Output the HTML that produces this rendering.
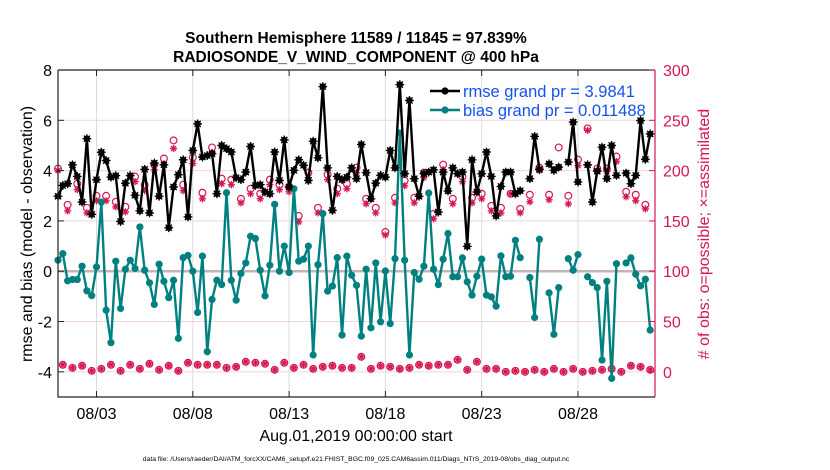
<!DOCTYPE html>
<html><head><meta charset="utf-8">
<style>
html,body{margin:0;padding:0;background:#fff;}
svg{display:block;font-family:"Liberation Sans",Arial,sans-serif;}
</style></head>
<body>
<svg id="chart" width="830" height="470" viewBox="0 0 830 470" xmlns="http://www.w3.org/2000/svg">
<rect width="830" height="470" fill="#fff"/>
<text x="356" y="43" text-anchor="middle" font-size="15.5" font-weight="bold">Southern Hemisphere 11589 / 11845 = 97.839%</text>
<text x="356" y="62" text-anchor="middle" font-size="15.5" font-weight="bold">RADIOSONDE_V_WIND_COMPONENT @ 400 hPa</text>
<g id="grid"></g>
<g id="marks"></g>
<g id="axes"></g>
<text transform="translate(32,234) rotate(-90)" text-anchor="middle" font-size="16">rmse and bias (model - observation)</text>
<text transform="translate(709,234) rotate(-90)" text-anchor="middle" font-size="16" fill="#d6174f"># of obs: o=possible; ×=assimilated</text>
<text x="356" y="441" text-anchor="middle" font-size="16">Aug.01,2019 00:00:00 start</text>
<text x="356" y="461" text-anchor="middle" font-size="6.8">data file: /Users/raeder/DAI/ATM_forcXX/CAM6_setup/f.e21.FHIST_BGC.f09_025.CAM6assim.011/Diags_NTrS_2019-08/obs_diag_output.nc</text>
<g>
<line x1="430" y1="91" x2="460" y2="91" stroke="#000" stroke-width="2.5"/>
<circle cx="445" cy="91" r="3.6" fill="#000"/>
<text x="463" y="97" font-size="16.5" fill="#1452f0">rmse grand pr = 3.9841</text>
<line x1="430" y1="110" x2="460" y2="110" stroke="#008080" stroke-width="2.5"/>
<circle cx="445" cy="110" r="3.6" fill="#008080"/>
<text x="463" y="116" font-size="16.5" fill="#1452f0">bias grand pr = 0.011488</text>
</g>
</svg>
<script>
// ---- data (6-hourly from Aug 01 00Z) ----
const rmse = [2.98,3.41,3.48,4.23,3.77,2.75,5.27,2.26,3.64,4.73,4.40,3.74,3.80,1.98,3.50,3.80,3.02,2.40,4.05,2.32,4.30,2.98,4.23,1.73,3.35,3.84,4.43,2.16,4.80,5.86,4.54,4.60,
4.67,3.08,5.00,4.87,4.74,3.72,3.64,3.94,4.96,3.41,3.44,3.15,3.08,4.74,3.61,5.22,3.35,4.01,4.43,4.21,3.61,5.17,4.51,7.34,4.11,2.42,3.77,3.64,3.74,4.11,3.68,
5.04,3.92,2.88,3.50,3.81,3.74,4.80,4.11,7.42,3.88,6.79,3.68,2.98,3.88,3.94,4.03,2.35,3.94,3.19,4.11,3.88,3.94,0.99,4.43,3.15,3.88,4.74,3.77,2.20,3.37,3.94,
3.94,3.08,3.20,null,3.68,5.36,4.05,null,4.27,4.01,4.14,null,4.34,5.93,3.55,null,4.23,2.75,3.98,4.93,3.68,5.00,3.81,null,3.90,3.48,3.81,5.99,4.45,5.46];
const bias = [0.44,0.70,-0.38,-0.33,-0.33,0.20,-0.78,-0.97,0.17,2.75,-1.55,-2.84,0.40,-1.48,0.08,0.44,0.11,1.76,0.04,-0.46,-1.32,0.28,-0.40,-1.05,-0.36,-2.67,0.54,0.63,0.0,-1.64,0.60,-3.20,
-1.12,-0.36,-0.53,3.12,-0.36,-1.15,-0.09,0.33,1.39,1.30,0.04,-0.98,0.24,2.66,0.0,1.0,-0.05,3.28,0.40,0.48,1.0,-3.33,0.26,2.29,-0.79,-0.59,0.54,-2.54,0.60,-0.16,-0.56,
-2.58,0.08,-2.25,0.33,-2.01,0.01,-2.08,0.50,5.49,0.44,-3.33,-0.05,-0.32,0.20,3.11,0.08,-0.53,0.48,1.50,-0.22,-0.22,0.53,-0.42,-0.95,-0.20,0.48,-0.95,-1.02,-1.39,0.61,-0.22,
-0.20,1.23,0.54,null,-0.25,-1.84,1.27,null,-0.86,-2.51,-0.65,null,0.50,0.04,0.66,null,-0.22,-0.45,-0.65,-3.53,-0.40,-4.26,0.30,null,0.33,0.53,-0.12,-0.58,-0.32,-2.34];
const nPossible = [202,7,166,4,187,6,163,1,175,3,175,7,169,1,164,7,194,3,186,8,206,2,212,6,230,1,186,9,213,7,178,7,
223,7,192,4,191,5,172,10,182,9,177,8,191,2,186,9,184,4,155,7,198,3,163,5,196,6,182,4,187,4,203,
15,172,3,163,6,139,5,173,3,190,4,173,7,198,6,157,7,206,7,172,12,194,2,173,10,177,3,165,3,163,0,
177,1,162,0,176,2,203,0,176,3,223,0,175,3,211,0,242,1,202,2,202,3,214,0,179,6,176,5,166,2];
const nAssim = [200,7,160,4,181,6,158,1,170,3,170,7,164,1,159,7,189,3,180,8,201,2,206,6,222,1,180,9,207,7,172,7,
218,7,187,4,186,5,168,10,177,9,172,8,186,2,181,9,179,4,149,7,193,3,158,5,191,6,177,4,182,4,198,
15,167,3,158,6,136,5,168,3,185,4,168,7,193,6,152,7,201,7,167,12,189,2,168,10,172,3,160,3,158,0,
177,1,158,0,169,2,200,0,171,3,203,0,167,3,205,0,240,1,199,2,199,3,209,0,174,6,170,5,162,2];
const xTickLabels = ["08/03","08/08","08/13","08/18","08/23","08/28"];
const xTickDays = [2,7,12,17,22,27];
const yTicksLeft = [-4,-2,0,2,4,6,8];
const yTicksRight = [0,50,100,150,200,250,300];

// ---- scales ----
const X0=58, X1=655, Y0=70, Y1=397;
const DAYS=31;
function xDay(d){return X0+(X1-X0)*d/DAYS;}
function xIdx(i){return xDay(i*0.25);}
function yL(v){return Y1-(v-(-5))*(Y1-Y0)/13;}
function yR(c){return Y1-(c-(-25))*(Y1-Y0)/325;}
const NS="http://www.w3.org/2000/svg";
function mk(tag,attrs,parent){const e=document.createElementNS(NS,tag);for(const k in attrs)e.setAttribute(k,attrs[k]);parent.appendChild(e);return e;}
const grid=document.getElementById('grid'), marks=document.getElementById('marks'), axes=document.getElementById('axes');
const MAG="#d6174f";

// grid
yTicksRight.forEach(c=>{const l=mk('line',{x1:X0,x2:X1,y1:yR(c),y2:yR(c),stroke:'#f1d3de','stroke-width':1},grid);

});
xTickDays.forEach(d=>{const l=mk('line',{x1:xDay(d),x2:xDay(d),y1:Y0,y2:Y1,stroke:'#dcdcdc','stroke-width':1},grid);

});
const zl=mk('line',{x1:X0,x2:X1,y1:yL(0),y2:yL(0),stroke:'#c4b4b8','stroke-width':2.5},grid);



// series line helper
function polyline(arr,color,name){let segs=[],cur=[];
arr.forEach((v,i)=>{if(v===null){if(cur.length)segs.push(cur);cur=[];}else cur.push([xIdx(i),yL(v)]);});
if(cur.length)segs.push(cur);
segs.forEach(s=>{const p=mk('polyline',{points:s.map(q=>q.join(',')).join(' '),fill:'none',stroke:color,'stroke-width':2.4,'stroke-linejoin':'round'},marks);

});}

// counts
function asterisk(cx,cy,r,color,g){for(let a=0;a<180;a+=45){const t=a*Math.PI/180;
mk('line',{x1:cx-r*Math.cos(t),y1:cy-r*Math.sin(t),x2:cx+r*Math.cos(t),y2:cy+r*Math.sin(t),stroke:color,'stroke-width':1.3},g);}}
nPossible.forEach((c,i)=>{const g=mk('g',{},marks);


mk('circle',{cx:xIdx(i),cy:yR(c),r:3.4,fill:'none',stroke:MAG,'stroke-width':1.2},g);});
nAssim.forEach((c,i)=>{const g=mk('g',{},marks);


asterisk(xIdx(i),yR(c),3.6,MAG,g);});

// rmse & bias
polyline(bias,'#008080','bias-line');
bias.forEach((v,i)=>{if(v===null)return;const c=mk('circle',{cx:xIdx(i),cy:yL(v),r:3.6,fill:'#008080'},marks);

});
polyline(rmse,'#000','rmse-line');
rmse.forEach((v,i)=>{if(v===null)return;const g=mk('g',{},marks);


mk('circle',{cx:xIdx(i),cy:yL(v),r:3.2,fill:'#000'},g);asterisk(xIdx(i),yL(v),4.4,'#000',g);});

// axes box
const lb=mk('path',{d:`M${X0},${Y0}H${X1}M${X0},${Y0}V${Y1}H${X1}`,stroke:'#222',fill:'none','stroke-width':1.2},axes);


const rb=mk('line',{x1:X1,x2:X1,y1:Y0,y2:Y1,stroke:MAG,'stroke-width':1.2},axes);


yTicksLeft.forEach(v=>{mk('line',{x1:X0,x2:X0+6,y1:yL(v),y2:yL(v),stroke:'#222'},axes);
const t=mk('text',{x:X0-6,y:yL(v)+6,'text-anchor':'end','font-size':16},axes);t.textContent=v;

});
yTicksRight.forEach(c=>{mk('line',{x1:X1-6,x2:X1,y1:yR(c),y2:yR(c),stroke:MAG},axes);
const t=mk('text',{x:X1+8,y:yR(c)+6,'font-size':16,fill:MAG},axes);t.textContent=c;

});
xTickDays.forEach((d,k)=>{mk('line',{x1:xDay(d),x2:xDay(d),y1:Y1,y2:Y1-6,stroke:'#222'},axes);
mk('line',{x1:xDay(d),x2:xDay(d),y1:Y0,y2:Y0+6,stroke:'#222'},axes);
const t=mk('text',{x:xDay(d),y:Y1+22,'text-anchor':'middle','font-size':16},axes);t.textContent=xTickLabels[k];

});
</script>
</body></html>
